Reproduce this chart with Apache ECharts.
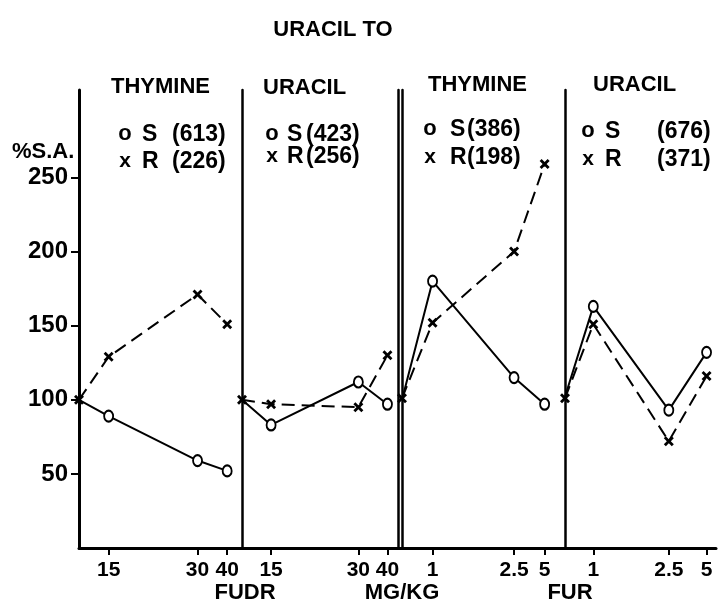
<!DOCTYPE html>
<html>
<head>
<meta charset="utf-8">
<script src="https://cdn.jsdelivr.net/npm/echarts@6/dist/echarts.min.js"></script>
<style>
  html, body { margin: 0; background: #fff; }
  #chart { width: 720px; height: 607px; }
</style>
</head>
<body>
<div id="chart"></div>
<script>
// y axis ticks (%S.A.)
const yTicks = [50, 100, 150, 200, 250]

// dose ticks, hand drawn spacing -> empty slots are spacers
const fudrTicks = ['', '', '15', '', '', '', '', '', '30', '', '40', '']
const furTicksA = ['', '', '', '1', '', '', '', '', '', '', '', '2.5', '', '', '5', '', '']
const furTicksB = ['', '', '', '1', '', '', '', '', '', '', '', '2.5', '', '', '', '5', '']

// values: origin (control) then each dose
const thyFudrS = [100, 89, 59, 52]
const thyFudrR = [100, 129, 171, 151]
const uraFudrS = [100, 83, 112, 97]
const uraFudrR = [100, 97, 95, 130]
const thyFurS = [100, 180, 115, 97]
const thyFurR = [101, 152, 200, 259]
const uraFurS = [102, 163, 93, 132]
const uraFurR = [101, 151, 72, 116]

const heads = ['THYMINE', 'URACIL', 'THYMINE', 'URACIL']
const sCounts = ['(613)', '(423)', '(386)', '(676)']
const rCounts = ['(226)', '(256)', '(198)', '(371)']

const FONT = 'Liberation Sans'
const Y_MAX = 309

// put values on the origin slot and the labelled slots
function onSlots(ticks, vals, hideFirst) {
  const out = ticks.map(() => null)
  const idx = [0]
  ticks.forEach((t, i) => { if (t !== '') idx.push(i) })
  idx.forEach((k, j) => { out[k] = vals[j] })
  if (hideFirst) out[0] = { value: vals[0], symbol: 'none' }
  return out
}

const panels = [
  { ticks: fudrTicks, s: thyFudrS, r: thyFudrR, grid: { left: 79, width: 163 } },
  { ticks: fudrTicks, s: uraFudrS, r: uraFudrR, grid: { left: 242, width: 160 } },
  { ticks: furTicksA, s: thyFurS, r: thyFurR, grid: { left: 402, width: 163 } },
  { ticks: furTicksB, s: uraFurS, r: uraFurR, grid: { left: 565, width: 151 } }
]

const xSym = 'path://M2,0 L5,3 L8,0 L10,2 L7,5 L10,8 L8,10 L5,7 L2,10 L0,8 L3,5 L0,2 Z'
const showTick = (i, v) => v !== ''

const grids = panels.map(p => ({ left: p.grid.left, width: p.grid.width, top: 90, height: 458 }))

const xAxes = panels.map((p, i) => ({
  gridIndex: i,
  type: 'category',
  boundaryGap: false,
  data: p.ticks,
  axisLine: { lineStyle: { color: '#000', width: 3 } },
  axisTick: { interval: showTick, length: 7, lineStyle: { color: '#000', width: 2 } },
  axisLabel: { interval: showTick, color: '#000', fontFamily: FONT, fontWeight: 'bold', fontSize: 21, margin: 12 },
  splitLine: { show: false }
}))

const yAxes = panels.map((p, i) => ({
  gridIndex: i,
  type: 'value',
  min: 0,
  max: Y_MAX,
  interval: 50,
  axisLine: { show: true, lineStyle: { color: '#000', width: i === 0 ? 3 : 2.5 } },
  axisTick: { show: i === 0, customValues: yTicks, length: 8, lineStyle: { color: '#000', width: 2 } },
  axisLabel: {
    show: i === 0, customValues: yTicks, color: '#000', fontFamily: FONT, fontWeight: 'bold',
    fontSize: 24, margin: 11,
    formatter: v => (v > 0 && v <= 250 ? String(v) : '')
  },
  splitLine: { show: false }
}))
// second line of the double divider
yAxes.push({
  gridIndex: 2, type: 'value', min: 0, max: Y_MAX, position: 'left', offset: 4,
  axisLine: { show: true, lineStyle: { color: '#000', width: 2.5 } },
  axisTick: { show: false }, axisLabel: { show: false }, splitLine: { show: false }
})

const series = []
panels.forEach((p, i) => {
  series.push({
    type: 'line', xAxisIndex: i, yAxisIndex: i,
    data: onSlots(p.ticks, p.s, true),
    connectNulls: true, clip: false, showAllSymbol: true,
    symbol: 'emptyCircle', symbolSize: [9, 11],
    itemStyle: { color: '#000', borderWidth: 2 },
    lineStyle: { color: '#000', width: 2 },
    z: 3
  })
  series.push({
    type: 'line', xAxisIndex: i, yAxisIndex: i,
    data: onSlots(p.ticks, p.r, false),
    connectNulls: true, clip: false, showAllSymbol: true,
    symbol: xSym, symbolSize: 10,
    itemStyle: { color: '#000' },
    lineStyle: { color: '#000', width: 2, type: [13, 7] },
    z: 4
  })
})

// text layout
const headPos = [[111, 87], [263, 88], [428, 85], [593, 85]]
const legPos = [
  { mark: 125, letter: 142, count: 172, y1: 135, y2: 162 },
  { mark: 272, letter: 287, count: 306, y1: 135, y2: 157 },
  { mark: 430, letter: 450, count: 467, y1: 130, y2: 158 },
  { mark: 588, letter: 605, count: 657, y1: 132, y2: 160 }
]

function txt(x, y, s, size, weight, align) {
  return {
    type: 'text', x: x, y: y, silent: true,
    style: {
      text: s, fill: '#000', font: (weight || 'bold') + ' ' + size + 'px "' + FONT + '"',
      textAlign: align || 'left', textVerticalAlign: 'middle'
    }
  }
}

const texts = [
  txt(333, 30, 'URACIL TO', 22, 'bold', 'center'),
  txt(12, 152, '%S.A.', 22),
  txt(245, 593, 'FUDR', 22, 'bold', 'center'),
  txt(402, 593, 'MG/KG', 22, 'bold', 'center'),
  txt(570, 593, 'FUR', 22, 'bold', 'center')
]
heads.forEach((h, i) => texts.push(txt(headPos[i][0], headPos[i][1], h, 22)))
legPos.forEach((l, i) => {
  texts.push(txt(l.mark, l.y1 - 1, 'o', 22, 'bold', 'center'))
  texts.push(txt(l.letter, l.y1, 'S', 23))
  texts.push(txt(l.count, l.y1, sCounts[i], 23))
  texts.push(txt(l.mark, l.y2 - 1, 'x', 21, 'bold', 'center'))
  texts.push(txt(l.letter, l.y2, 'R', 23))
  texts.push(txt(l.count, l.y2, rCounts[i], 23))
})

const chart = echarts.init(document.getElementById('chart'))
chart.setOption({
  backgroundColor: '#fff',
  animation: false,
  grid: grids,
  xAxis: xAxes,
  yAxis: yAxes,
  series: series,
  graphic: { elements: texts }
})
</script>
</body>
</html>
